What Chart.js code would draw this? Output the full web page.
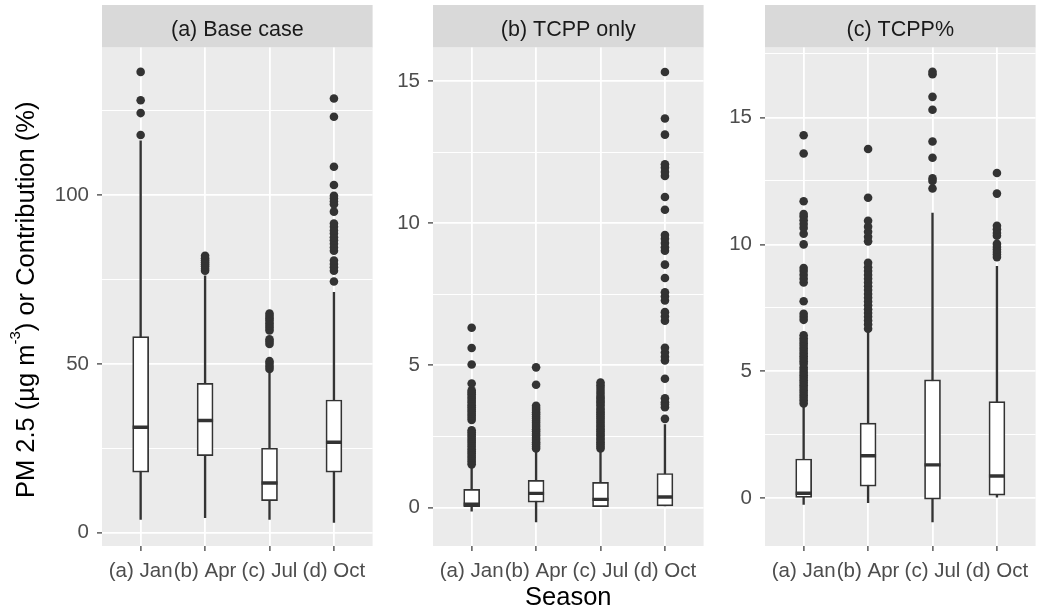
<!DOCTYPE html>
<html>
<head>
<meta charset="utf-8">
<title>PM 2.5 boxplots</title>
<script src="https://cdn.jsdelivr.net/npm/chart.js@4.4.1/dist/chart.umd.min.js"></script>
<style>
  html, body { margin: 0; padding: 0; background: #fff; overflow: hidden; }
  #wrap { position: relative; width: 1042px; height: 613px; overflow: hidden; }
  #wrap canvas { position: absolute; top: 0; }
</style>
</head>
<body>
<div id="wrap">
  <canvas id="base" width="384" height="613" style="left:0"></canvas>
  <canvas id="tcpp" width="331" height="613" style="left:384px"></canvas>
  <canvas id="pct" width="332" height="613" style="left:715px"></canvas>
</div>
<script>
const months = ["(a) Jan", "(b) Apr", "(c) Jul", "(d) Oct"];

// (a) Base case
const baseLow = [3.9, 4.4, 3.9, 3.0];
const baseQ1 = [17.9, 22.8, 9.5, 17.9];
const baseMedian = [31.2, 33.2, 14.7, 26.8];
const baseQ3 = [58.1, 44.2, 25.0, 39.3];
const baseHigh = [116.1, 76.1, 47.5, 71.2];
const baseOutliers = [
  [117.8, 124.3, 128.1, 136.5],
  [77.6, 78.2, 78.9, 79.5, 80.1, 80.7, 81.3, 82.0],
  [48.5, 49.2, 50.0, 50.8, 55.9, 56.6, 57.3, 59.9, 60.6, 61.3, 62.0, 62.8, 63.5, 64.2, 64.9],
  [74.4, 77.6, 78.6, 79.6, 80.6, 83.5, 84.5, 85.6, 86.6, 87.5, 88.6, 89.5, 90.6, 91.6,
   95.1, 97.3, 98.1, 99.0, 99.8, 103.0, 108.4, 123.2, 128.6]
];
const baseTicks = [0, 50, 100];
const baseMinor = [25, 75, 125];

// (b) TCPP only
const tcppLow = [-0.13, -0.5, 0.0, 0.06];
const tcppQ1 = [0.0, 0.19, 0.0, 0.06];
const tcppMedian = [0.12, 0.50, 0.29, 0.37];
const tcppQ3 = [0.64, 0.96, 0.89, 1.20];
const tcppHigh = [1.46, 2.01, 2.01, 2.92];
const tcppOutliers = [
  [1.52, 1.6, 1.67, 1.75, 1.82, 1.9, 1.97, 2.05, 2.13, 2.2, 2.28, 2.35, 2.42, 2.5, 2.57, 2.65, 2.72,
   3.08, 3.15, 3.23, 3.3, 3.38, 3.45, 3.53, 3.6, 3.68, 3.75, 3.83, 3.9, 3.98, 4.05, 4.12,
   4.36, 5.03, 5.61, 6.32],
  [2.08, 2.15, 2.23, 2.3, 2.38, 2.45, 2.53, 2.6, 2.68, 2.75, 2.83, 2.9, 2.98, 3.05, 3.13, 3.2,
   3.28, 3.35, 3.43, 3.5, 3.58, 4.32, 4.93],
  [2.08, 2.15, 2.23, 2.3, 2.38, 2.45, 2.53, 2.6, 2.68, 2.75, 2.83, 2.9, 2.98, 3.05, 3.13, 3.2,
   3.28, 3.35, 3.43, 3.5, 3.6, 3.68, 3.75, 3.83, 3.9, 4.0, 4.1, 4.2, 4.3, 4.4],
  [3.12, 3.53, 3.62, 3.7, 3.84, 4.53, 5.17, 5.3, 5.45, 5.62, 6.57, 6.72, 6.87, 7.28, 7.42, 7.57,
   8.07, 8.54, 9.03, 9.15, 9.3, 9.45, 9.58, 10.47, 10.92, 11.66, 11.8, 11.95, 12.07, 13.11,
   13.68, 15.31]
];
const tcppTicks = [0, 5, 10, 15];
const tcppMinor = [2.5, 7.5, 12.5];

// (c) TCPP%
const pctLow = [-0.24, -0.17, -0.93, 0.05];
const pctQ1 = [0.04, 0.48, -0.03, 0.13];
const pctMedian = [0.20, 1.68, 1.32, 0.88];
const pctQ3 = [1.55, 2.96, 4.67, 3.81];
const pctHigh = [3.66, 6.6, 11.23, 9.14];
const pctOutliers = [
  [3.74, 3.85, 3.95, 4.05, 4.15, 4.25, 4.35, 4.45, 4.55, 4.65, 4.75, 4.85, 4.95, 5.05, 5.15,
   5.3, 5.4, 5.5, 5.6, 5.7, 5.8, 5.9, 6.0, 6.1, 6.2, 6.3, 6.42, 7.03, 7.15, 7.27, 7.76,
   8.5, 8.65, 8.8, 8.95, 9.07, 10.0, 10.42, 10.65, 10.8, 10.95, 11.1, 11.2, 11.7, 13.58, 14.3],
  [6.68, 6.85, 7.0, 7.15, 7.3, 7.45, 7.6, 7.75, 7.9, 8.05, 8.2, 8.35, 8.5, 8.65, 8.8, 8.95,
   9.1, 9.28, 10.12, 10.3, 10.5, 10.7, 10.93, 11.84, 13.76],
  [12.2, 12.5, 12.6, 13.41, 14.05, 15.3, 15.81, 16.7, 16.8],
  [9.5, 9.6, 9.7, 9.8, 9.9, 10.02, 10.34, 10.45, 10.6, 10.73, 12.0, 12.81]
];
const pctTicks = [0, 5, 10, 15];
const pctMinor = [2.5, 7.5, 12.5, 17.5];

const FONT = '"Liberation Sans", Arial, Helvetica, sans-serif';
const DARK = "#333333";
Chart.defaults.font.family = FONT;

// grey panel + strip behind everything
const panelBg = {
  id: "panelBg",
  beforeDraw(chart) {
    const { ctx, chartArea: a } = chart;
    ctx.save();
    ctx.fillStyle = "#D9D9D9";
    ctx.fillRect(a.left, 5, a.right - a.left, a.top - 5);
    ctx.fillStyle = "#EBEBEB";
    ctx.fillRect(a.left, a.top, a.right - a.left, a.bottom - a.top);
    ctx.restore();
  }
};

// y title with a superscript, drawn on the first panel only
const yTitle = {
  id: "yTitle",
  afterDraw(chart) {
    const { ctx, chartArea: a } = chart;
    const big = "25.5px " + FONT;
    const small = "15px " + FONT;
    const parts = [
      ["PM 2.5 (\u00b5g m", big, 0],
      ["-3", small, -14],
      [") or Contribution (%)", big, 0]
    ];
    ctx.save();
    let total = 0;
    parts.forEach((p) => { ctx.font = p[1]; total += ctx.measureText(p[0]).width; });
    ctx.translate(33.5, (a.top + a.bottom) / 2 + 3);
    ctx.rotate(-Math.PI / 2);
    ctx.fillStyle = "#000";
    ctx.textBaseline = "alphabetic";
    let x = -total / 2;
    parts.forEach((p) => {
      ctx.font = p[1];
      ctx.fillText(p[0], x, p[2]);
      x += ctx.measureText(p[0]).width;
    });
    ctx.restore();
  }
};

function boxPanel(id, title, low, q1, median, q3, high, outliers, majors, minors, yMin, yMax, axisWidth, xTitle, plugins) {
  const gridTicks = minors.concat(majors).sort((a, b) => a - b);
  return new Chart(document.getElementById(id), {
    type: "scatter",
    data: {
      datasets: [
        {
          type: "scatter",
          data: outliers.flatMap((list, i) => list.map((v) => ({ x: i + 1, y: v }))),
          pointRadius: 4.3,
          pointBackgroundColor: DARK,
          pointBorderWidth: 0,
          order: 0
        },
        {
          type: "scatter",
          data: median.map((v, i) => ({ x: i + 1, y: v })),
          pointStyle: "line",
          pointRadius: 8,
          pointBorderWidth: 3.4,
          pointBorderColor: DARK,
          order: 1
        },
        {
          type: "bar",
          data: q1.map((v, i) => ({ x: i + 1, y: [v, q3[i]] })),
          backgroundColor: "#FFFFFF",
          borderColor: DARK,
          borderWidth: 1.7,
          borderSkipped: false,
          grouped: false,
          barThickness: 16,
          maxBarThickness: 16,
          order: 2
        },
        {
          type: "bar",
          data: low.map((v, i) => ({ x: i + 1, y: [v, high[i]] })),
          backgroundColor: DARK,
          borderWidth: 0,
          grouped: false,
          barThickness: 1.7,
          maxBarThickness: 1.7,
          order: 3
        }
      ]
    },
    options: {
      responsive: false,
      animation: false,
      devicePixelRatio: 1,
      events: [],
      layout: { padding: 0 },
      plugins: {
        legend: { display: false },
        tooltip: { enabled: false },
        title: {
          display: true,
          text: title,
          fullSize: false,
          color: "#1A1A1A",
          font: { size: 21.5, weight: "normal", lineHeight: 1.2 },
          padding: { top: 17.4, bottom: 4.4 }
        }
      },
      scales: {
        x: {
          type: "linear",
          min: 0.4,
          max: 4.6,
          offset: false,
          afterBuildTicks: (s) => { s.ticks = months.map((m, i) => ({ value: i + 1 })); },
          afterFit: (s) => { s.height = 67; },
          ticks: {
            callback: (v) => months[v - 1],
            color: "#4D4D4D",
            font: { size: 20.5 },
            padding: 8,
            autoSkip: false,
            maxRotation: 0,
            minRotation: 0
          },
          grid: {
            offset: false,
            color: "#FFFFFF",
            lineWidth: 1.8,
            tickColor: DARK,
            tickLength: 5,
            tickWidth: 1.2
          },
          border: { display: false },
          title: {
            display: xTitle,
            text: "Season",
            color: "#000",
            font: { size: 25.5 },
            padding: { top: 0, bottom: 0 }
          }
        },
        y: {
          type: "linear",
          min: yMin,
          max: yMax,
          afterBuildTicks: (s) => { s.ticks = gridTicks.map((v) => ({ value: v })); },
          afterFit: (s) => { s.width = axisWidth; },
          ticks: {
            callback: (v) => (majors.includes(v) ? String(v) : ""),
            color: "#4D4D4D",
            font: { size: 20.5 },
            padding: 8,
            autoSkip: false
          },
          grid: {
            color: "#FFFFFF",
            lineWidth: (c) => (c.tick && majors.includes(c.tick.value) ? 1.8 : 1),
            tickColor: (c) => (c.tick && majors.includes(c.tick.value) ? DARK : "rgba(0,0,0,0)"),
            tickLength: 5,
            tickWidth: 1.2
          },
          border: { display: false }
        }
      }
    },
    plugins: plugins
  });
}

boxPanel("base", "(a) Base case", baseLow, baseQ1, baseMedian, baseQ3, baseHigh, baseOutliers,
  baseTicks, baseMinor, -3.96, 143.7, 102, false, [panelBg, yTitle]);
boxPanel("tcpp", "(b) TCPP only", tcppLow, tcppQ1, tcppMedian, tcppQ3, tcppHigh, tcppOutliers,
  tcppTicks, tcppMinor, -1.35, 16.17, 49, true, [panelBg]);
boxPanel("pct", "(c) TCPP%", pctLow, pctQ1, pctMedian, pctQ3, pctHigh, pctOutliers,
  pctTicks, pctMinor, -1.876, 17.75, 50, false, [panelBg]);
</script>
</body>
</html>
